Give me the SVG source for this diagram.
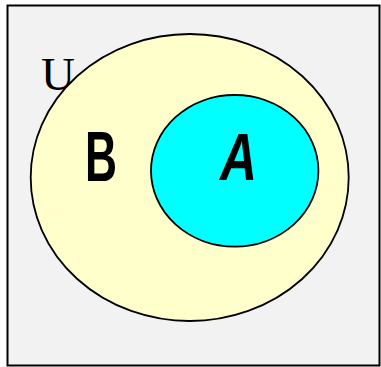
<svg xmlns="http://www.w3.org/2000/svg" width="381" height="367" viewBox="0 0 381 367">
<style>
.set{stroke:#000;stroke-width:1.8}
.lbl{font-family:"Liberation Sans",Arial,sans-serif;font-weight:bold;fill:#000}
</style>
<rect x="0" y="0" width="381" height="367" fill="#ffffff"/>
<g id="universe">
<rect x="7.5" y="5.5" width="372" height="360" fill="#f2f2f2" stroke="#000" stroke-width="2"/>
<text x="41" y="90" font-family="'Liberation Serif','Times New Roman',serif" font-size="47" fill="#000">U</text>
</g>
<g id="B">
<ellipse class="set" cx="189.7" cy="177.5" rx="159" ry="143.5" fill="#ffffcc"/>
<text class="lbl" x="85" y="181" font-size="70" textLength="32" lengthAdjust="spacingAndGlyphs">B</text>
</g>
<g id="A">
<ellipse class="set" cx="234.7" cy="170.8" rx="83.7" ry="75.8" fill="#00ffff"/>
<text class="lbl" x="220" y="180" font-size="66" textLength="37" lengthAdjust="spacingAndGlyphs" font-style="italic">A</text>
</g>
<g id="connectors"/>
</svg>
